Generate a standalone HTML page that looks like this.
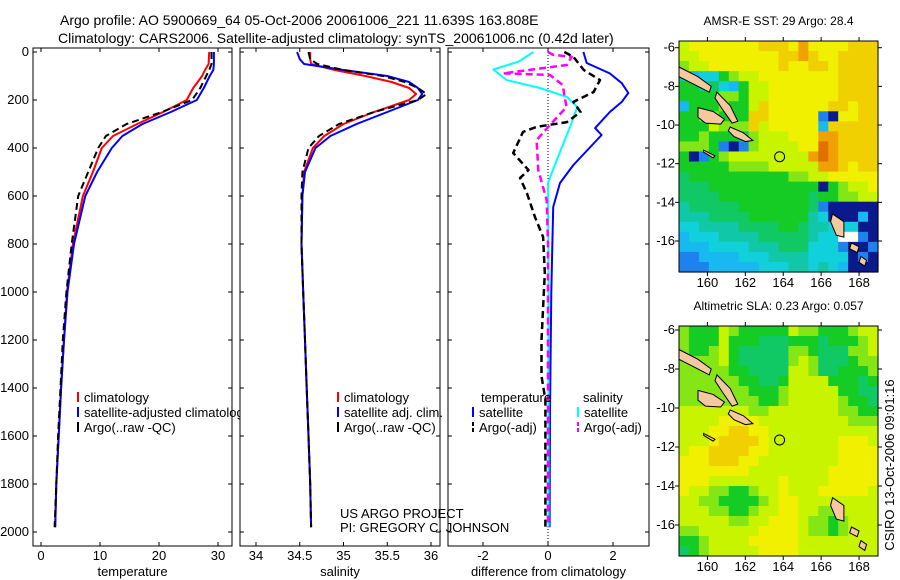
<!DOCTYPE html>
<html><head><meta charset="utf-8"><style>
body{margin:0;background:#fff;}
svg{display:block;font-family:"Liberation Sans",sans-serif;}
text{font-size:13px;fill:#000;}
</style></head><body>
<svg id="c" width="900" height="580" viewBox="0 0 900 580">
<text x="60" y="25" style="font-size:14px">Argo profile: AO 5900669_64 05-Oct-2006 20061006_221 11.639S 163.808E</text>
<text x="58" y="43" style="font-size:14px">Climatology: CARS2006. Satellite-adjusted climatology: synTS_20061006.nc (0.42d later)</text>
</svg>
<script>
// ---- profile data ----
const depthT = [0,50,75,100,150,200,250,300,350,400,500,600,800,1000,1200,1400,1600,1800,1980];
const tempClim = [28.5,28.4,27.8,27.3,25.8,24.7,20.7,16.3,12.2,10.3,8.8,7.1,5.4,4.4,3.9,3.4,3.0,2.6,2.4];
const tempSat  = [29.3,29.3,29.2,28.6,27.6,26.4,22.0,17.2,13.8,12.0,9.5,7.5,5.6,4.5,3.9,3.4,3.0,2.6,2.4];
const tempArgo = [28.9,28.9,28.5,28.0,27.0,25.6,20.5,14.5,11.0,9.7,8.0,6.3,5.2,4.3,3.7,3.3,2.9,2.6,2.3];
const depthS = [0,30,50,75,100,125,150,175,200,250,300,350,400,500,600,800,1000,1200,1400,1600,1800,1980];
const salClim = [34.62,34.62,34.63,34.9,35.25,35.55,35.75,35.83,35.75,35.35,35.0,34.78,34.65,34.55,34.53,34.52,34.54,34.56,34.58,34.6,34.62,34.63];
const salSat  = [34.47,34.5,34.55,35.0,35.5,35.75,35.85,35.9,35.85,35.5,35.15,34.85,34.68,34.56,34.53,34.52,34.54,34.56,34.58,34.6,34.62,34.63];
const salArgo = [34.6,34.62,34.7,35.0,35.45,35.7,35.85,35.95,35.85,35.35,34.95,34.72,34.6,34.53,34.52,34.52,34.54,34.56,34.58,34.6,34.62,34.63];
const dTsatDepth = [0,46,89,130,171,208,250,317,346,471,546,646,1000,1500,1980];
const dTsat      = [1.09,1.19,1.9,2.27,2.47,2.27,1.9,1.45,1.65,0.78,0.37,0.16,0.1,0.06,0.05];
const dSsatDepth = [0,40,73,117,150,187,229,312,450,546,1000,1980];
const dSsat      = [-0.45,-0.9,-1.68,-1.27,-0.25,0.58,0.9,0.68,0.27,0.0,0.02,0.02];
const dSargoDepth = [0,12,20,54,89,96,137,229,304,367,492,617,800,1980];
const dSargo      = [0.0,0.16,0.73,0.58,-1.38,0.06,0.45,0.57,0.06,-0.35,-0.3,-0.04,0.0,0.0];
const dTargoDepth = [0,20,75,117,167,208,250,292,312,333,421,492,525,588,688,771,921,1200,1350,1450,1980];
const dTargo      = [0.5,0.78,1.1,1.6,1.4,0.78,1.0,0.58,-0.35,-0.77,-1.07,-0.6,-0.86,-0.65,-0.4,-0.15,-0.1,-0.2,-0.2,-0.08,-0.08];
const depthTicks = [0,200,400,600,800,1000,1200,1400,1600,1800,2000];
const tTicks = [0,10,20,30];
const sTicks = [34,34.5,35,35.5,36];
const dTicks = [-2,0,2];
// ---- map data (rows top->bottom, cols west->east, colour key) ----
const sstRows = [
"89999999aaa9b9999aaa","8899999999aaba99aaaa","7889999999a99aa9aaaa","4233678899999999aaaa",
"6645326889999999aaaa","6666776889999999aaaa","26667668a999999aa9aa","6677666aa999991099aa",
"6668777a8999992aaaaa","66766657888999bbaaaa","77761017888899cbaaaa","6016788888888bcbaaaa",
"66666777788888bba9aa","56666666666778899999","55566666666666067889","55556666666665667788",
"45555566666665100000","44455556666664300020","33444455556654433300","2333444455555433ww10",
"22233334445553331001","11222233344443333010","11122222333443432000"];
const slaRows = [
"76668766666877666788","76668666555666566678","76678655555776555778","77778655555787555677",
"77777665555887556667","77777766556888866656","77777776667888886655","77777777667888887665",
"88888887788888887766","88889999888888888777","88899aa9988888888888","8889aaaa988888889998",
"899aaaa9988888889999","999aaa99888888889999","99999998888888899999","99988888889888899999",
"98877667889888999998","88776666789988888888","88877667889988778888","88888778899987767888",
"77888888999987767888","66788889999988888888","56788888999988888888"];
const lonTicks = [160,162,164,166,168];
const latTicks = [-6,-8,-10,-12,-14,-16];
const argoLon = 163.808, argoLat = -11.639;
const islands = [
 [[158.5,-7.0],[159.5,-7.5],[160.2,-8.0],[160.1,-8.3],[159.3,-7.9],[158.5,-7.5]],
 [[160.5,-8.3],[161.2,-9.0],[161.6,-9.8],[161.3,-9.9],[160.8,-9.2],[160.4,-8.6]],
 [[159.5,-9.1],[160.3,-9.3],[160.9,-9.7],[160.7,-9.95],[159.9,-9.9],[159.5,-9.6]],
 [[161.2,-10.1],[161.9,-10.4],[162.4,-10.8],[162.0,-10.85],[161.4,-10.6],[161.1,-10.3]],
 [[159.8,-11.3],[160.4,-11.6],[160.3,-11.7],[159.8,-11.4]],
 [[166.6,-14.6],[167.2,-15.0],[167.2,-15.8],[166.8,-15.7],[166.5,-15.0]],
 [[167.6,-16.1],[168.0,-16.3],[167.9,-16.6],[167.5,-16.4]],
 [[168.1,-16.8],[168.4,-17.0],[168.3,-17.3],[168.0,-17.1]]
];
const colorKeys = "0123456789abcw";
const colorVals = ["#0a1a8c","#1e82ec","#18b8f0","#10d0dc","#10c8a8","#10c864","#14cc24","#84e614","#c8f400","#f0f000","#f0d000","#f0a000","#e07000","#ffffff"];

const NS="http://www.w3.org/2000/svg";
const svgRoot=document.getElementById('c');
function el(tag,attrs,parent){const e=document.createElementNS(NS,tag);for(const k in attrs)e.setAttribute(k,attrs[k]);(parent||svgRoot).appendChild(e);return e;}
const yTop=52, yBot=546;
function yD(d){return yTop+d*0.24;}

function panel(name,x0,x1,xs,ticks,fmt,title,showY){
  const g=el('g',{});
  
  
  const r=el('rect',{x:x0,y:yTop-4,width:x1-x0,height:yBot-yTop+4,fill:'#fff',stroke:'#000','stroke-width':1},g);
  
  
  ticks.forEach(v=>{const x=xs(v);
    el('line',{x1:x,x2:x,y1:yTop-4,y2:yTop,stroke:'#000'},g);
    el('line',{x1:x,x2:x,y1:yBot,y2:yBot-4,stroke:'#000'},g);
    const t=el('text',{x:x,y:yBot+14,'text-anchor':'middle'},g);t.textContent=fmt(v);
    
    
  });
  depthTicks.forEach(d=>{const y=yD(d);
    el('line',{x1:x0,x2:x0+4,y1:y,y2:y,stroke:'#000'},g);
    el('line',{x1:x1,x2:x1-4,y1:y,y2:y,stroke:'#000'},g);
    if(showY){const t=el('text',{x:x0-4,y:y+4,'text-anchor':'end'},g);t.textContent=d;
      
      }
  });
  const tt=el('text',{x:(x0+x1)/2,y:576,'text-anchor':'middle'},g);tt.textContent=title;
  
  
  return g;
}
function line(name,xs,vals,depths,color,dash,w){
  const pts=vals.map((v,i)=>xs(v).toFixed(1)+','+yD(depths[i]).toFixed(1)).join(' ');
  const p=el('polyline',{points:pts,fill:'none',stroke:color,'stroke-width':w||2,'stroke-dasharray':dash||'none','stroke-linejoin':'round'});
  
  
}
function legend(x,y,color,txt,dash){
  el('line',{x1:x,x2:x,y1:y-10,y2:y,stroke:color,'stroke-width':2,'stroke-dasharray':dash||'none'});
  const t=el('text',{x:x+6,y:y});t.textContent=txt;
  
  
}
// Panel 1
const xT=v=>41+v*5.9;
panel('temperature-panel',33,232,xT,tTicks,v=>v,'temperature',true);
line('temp-climatology',xT,tempClim,depthT,'#f00');
line('temp-satellite',xT,tempSat,depthT,'#00f');
line('temp-argo',xT,tempArgo,depthT,'#000','7,4');
legend(78,402,'#f00','climatology');
legend(78,417,'#00f','satellite-adjusted climatology');
legend(78,432,'#000','Argo(..raw -QC)');
// Panel 2
const xS=v=>256+(v-34)*87.5;
panel('salinity-panel',240,440,xS,sTicks,v=>v,'salinity',false);
line('sal-climatology',xS,salClim,depthS,'#f00');
line('sal-satellite',xS,salSat,depthS,'#00f');
line('sal-argo',xS,salArgo,depthS,'#000','7,4');
legend(338,402,'#f00','climatology');
legend(338,417,'#00f','satellite adj. clim.');
legend(338,432,'#000','Argo(..raw -QC)');
// Panel 3
const xDf=v=>548+v*32.5;
panel('difference-panel',448,649,xDf,dTicks,v=>v,'difference from climatology',false);
el('line',{x1:548,x2:548,y1:yTop,y2:yBot,stroke:'#000','stroke-dasharray':'1,2'});
line('diff-temp-satellite',xDf,dTsat,dTsatDepth,'#00f');
line('diff-sal-satellite',xDf,dSsat,dSsatDepth,'#0ff');
line('diff-sal-argo',xDf,dSargo,dSargoDepth,'#f0f','7,4',2.5);
line('diff-temp-argo',xDf,dTargo,dTargoDepth,'#000','7,4',2.5);
{const t=el('text',{x:481,y:402});t.textContent='temperature';}
{const t=el('text',{x:583,y:402});t.textContent='salinity';}
legend(473,417,'#00f','satellite');
legend(473,432,'#000','Argo(-adj)','4,2');
legend(578,417,'#0ff','satellite');
legend(578,432,'#f0f','Argo(-adj)','4,2');
{const t=el('text',{x:340,y:518});t.textContent='US ARGO PROJECT';}
{const t=el('text',{x:340,y:532});t.textContent='PI: GREGORY C. JOHNSON';}

// Maps
function drawMap(name,rows,y0,y1,title,lat6y,pxPerDeg){
  const x0=679,x1=878,lon0=158.5,lon1=169.0;
  const lx=v=>x0+(v-lon0)*(x1-x0)/(lon1-lon0);
  const ly=v=>lat6y+(-6-v)*pxPerDeg;
  const g=el('g',{});
  
  
  const nr=rows.length,nc=rows[0].length,cw=(x1-x0)/nc,ch=(y1-y0)/nr;
  rows.forEach((row,i)=>{for(let j=0;j<nc;j++){
    const c=el('rect',{x:(x0+j*cw).toFixed(2),y:(y0+i*ch).toFixed(2),width:(cw+0.6).toFixed(2),height:(ch+0.6).toFixed(2),fill:colorVals[colorKeys.indexOf(row[j])]},g);
    
    
  }});
  islands.forEach(poly=>{
    const p=el('polygon',{points:poly.map(q=>lx(q[0]).toFixed(1)+','+ly(q[1]).toFixed(1)).join(' '),fill:'#f5c8a0',stroke:'#000','stroke-width':1},g);
    
    
  });
  const m=el('circle',{cx:lx(argoLon),cy:ly(argoLat),r:5,fill:'none',stroke:'#000'},g);
  
  
  el('rect',{x:x0,y:y0,width:x1-x0,height:y1-y0,fill:'none',stroke:'#000'},g);
  lonTicks.forEach(v=>{const x=lx(v);
    el('line',{x1:x,x2:x,y1:y1,y2:y1+4,stroke:'#000'},g);
    el('line',{x1:x,x2:x,y1:y0,y2:y0-4,stroke:'#000'},g);
    const t=el('text',{x:x,y:y1+15,'text-anchor':'middle'},g);t.textContent=v;
    
    });
  latTicks.forEach(v=>{const y=ly(v);
    el('line',{x1:x0,x2:x0-4,y1:y,y2:y,stroke:'#000'},g);
    el('line',{x1:x1,x2:x1+4,y1:y,y2:y,stroke:'#000'},g);
    const t=el('text',{x:x0-4,y:y+4,'text-anchor':'end'},g);t.textContent=v;
    
    });
  const tt=el('text',{x:(x0+x1)/2,y:y0-16,'text-anchor':'middle','style':'font-size:12px'},g);tt.textContent=title;
  
  
}
drawMap('sst-map',sstRows,41,272,'AMSR-E SST: 29 Argo: 28.4',47.7,19.33);
drawMap('sla-map',slaRows,326,556,'Altimetric SLA: 0.23 Argo: 0.057',330,19.5);
{const t=el('text',{x:0,y:0,transform:'translate(894,465) rotate(-90)','text-anchor':'middle'});t.textContent='CSIRO 13-Oct-2006 09:01:16';

}
</script>
</body></html>
